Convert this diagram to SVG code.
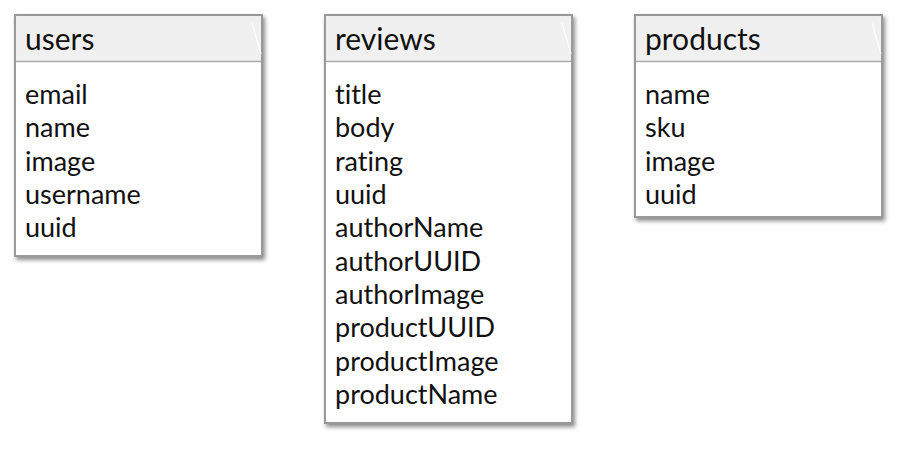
<svg xmlns="http://www.w3.org/2000/svg" width="899" height="458" viewBox="0 0 899 458">
<defs>
<filter id="sh" x="-10%" y="-10%" width="130%" height="130%">
<feDropShadow dx="2" dy="3" stdDeviation="2" flood-color="#000" flood-opacity="0.45"/>
</filter>
<style>
.box{fill:#fff;stroke:#999;stroke-width:2}
.hd{fill:#f0f0f0}
.div{stroke:#aaa;stroke-width:1.5}
.gl{stroke:#fff;stroke-width:1.2;opacity:0.9}
.t,.f{font-family:Lato,"Open Sans",sans-serif;fill:#111;font-variant-ligatures:none;font-feature-settings:"liga" 0,"clig" 0}
.t{font-size:30px}
.f{font-size:27px}
</style>
</defs>
<rect width="899" height="458" fill="#fff"/>
<g id="connectors"></g>
<g id="users">
<rect class="box" x="15" y="15" width="247" height="241" filter="url(#sh)"/>
<rect class="hd" x="16" y="16" width="245" height="45"/>
<line class="div" x1="16" y1="61.5" x2="261" y2="61.5"/>
<line class="gl" x1="252" y1="23" x2="261" y2="54"/>
<text class="t" x="25" y="50">users</text>
<text class="f" x="25" y="104">email</text>
<text class="f" x="25" y="137.3">name</text>
<text class="f" x="25" y="170.6">image</text>
<text class="f" x="25" y="204">username</text>
<text class="f" x="25" y="237.3">uuid</text>
</g>
<g id="reviews">
<rect class="box" x="325" y="15" width="247" height="408" filter="url(#sh)"/>
<rect class="hd" x="326" y="16" width="245" height="45"/>
<line class="div" x1="326" y1="61.5" x2="571" y2="61.5"/>
<line class="gl" x1="562" y1="23" x2="571" y2="54"/>
<text class="t" x="335" y="50">reviews</text>
<text class="f" x="335" y="104">title</text>
<text class="f" x="335" y="137.3">body</text>
<text class="f" x="335" y="170.6">rating</text>
<text class="f" x="335" y="204">uuid</text>
<text class="f" x="335" y="237.3">authorName</text>
<text class="f" x="335" y="270.6">authorUUID</text>
<text class="f" x="335" y="304">authorImage</text>
<text class="f" x="335" y="337.3">productUUID</text>
<text class="f" x="335" y="370.6">productImage</text>
<text class="f" x="335" y="404">productName</text>
</g>
<g id="products">
<rect class="box" x="635" y="15" width="247" height="202" filter="url(#sh)"/>
<rect class="hd" x="636" y="16" width="245" height="45"/>
<line class="div" x1="636" y1="61.5" x2="881" y2="61.5"/>
<line class="gl" x1="872" y1="23" x2="881" y2="54"/>
<text class="t" x="645" y="50">products</text>
<text class="f" x="645" y="104">name</text>
<text class="f" x="645" y="137.3">sku</text>
<text class="f" x="645" y="170.6">image</text>
<text class="f" x="645" y="204">uuid</text>
</g>
</svg>
